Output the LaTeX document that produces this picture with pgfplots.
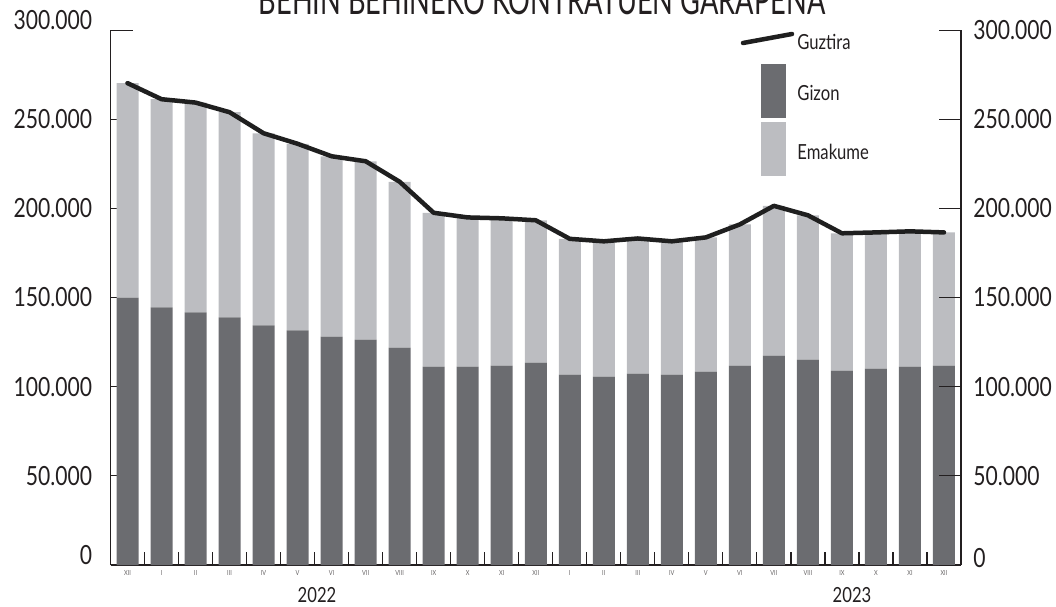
\documentclass[border=0pt]{standalone}
\usepackage{pgfplots}
\pgfplotsset{compat=1.18}
\usepackage{pgfplotstable}
\usepackage{fontspec}
\setmainfont{Lato}[FakeStretch=0.8]
\newfontfamily\titlefont{Lato}[FakeStretch=0.68]
\definecolor{gizon}{HTML}{6B6C70}
\definecolor{emakume}{HTML}{BCBDC1}
\definecolor{txt}{HTML}{231F20}

\pgfplotstableread{
k gizon emakume guztira
0 150000 120200 270200
1 144400 116800 261200
2 141600 117700 259300
3 138800 115100 253900
4 134300 107800 242100
5 131500 104700 236200
6 128100 101100 229200
7 126400 100000 226400
8 121900 93000 214900
9 111200 86300 197500
10 111200 83700 194900
11 111800 82600 194400
12 113500 79800 193300
13 106700 76200 182900
14 105600 75900 181500
15 107300 75800 183100
16 106700 74800 181500
17 108400 75300 183700
18 111800 79200 191000
19 117400 84000 201400
20 115200 80900 196100
21 109000 77000 186000
22 110100 76400 186500
23 111200 75900 187100
24 111800 74700 186500
}\data

\begin{document}
\begin{tikzpicture}[x=1pt,y=1pt]
\begin{axis}[
  at={(55.25pt,20.5pt)}, anchor=south west,
  scale only axis, width=425.25pt, height=267.5pt,
  xmin=-0.5, xmax=24.5, ymin=0, ymax=300000,
  axis x line*=bottom, axis y line*=left,
  axis line style={line width=0.6pt, -, txt},
  ybar stacked, bar width=11pt,
  xtick={0,...,24},
  xticklabels={XII,I,II,III,IV,V,VI,VII,VIII,IX,X,XI,XII,I,II,III,IV,V,VI,VII,VIII,IX,X,XI,XII},
  xticklabel style={font=\fontsize{3.5}{4}\selectfont, inner sep=0pt, yshift=-2.5pt, text=txt!70},
  major x tick style={draw=none},
  minor xtick={0.5,1.5,...,23.5},
  minor x tick style={line width=0.6pt, txt},
  minor tick length=6.5pt,
  tick align=inside,
  ytick={50000,100000,150000,200000,250000},
  major y tick style={line width=0.5pt, txt},
  major tick length=3pt,
  extra y ticks={0,300000},
  extra y tick style={major tick length=11pt, yticklabel style={yshift=5pt}},
  scaled y ticks=false,
  yticklabel style={font=\fontsize{13.2}{14}\selectfont, inner sep=0pt, xshift=-9pt, text=txt},
  /pgf/number format/.cd, fixed, 1000 sep={.}, assume math mode=true,
]
\addplot[fill=gizon, draw=none] table[x=k,y=gizon]{\data};
\addplot[fill=emakume, draw=none] table[x=k,y=emakume]{\data};
\end{axis}
\begin{axis}[
  at={(55.25pt,20.5pt)}, anchor=south west,
  scale only axis, width=425.25pt, height=267.5pt,
  xmin=-0.5, xmax=24.5, ymin=0, ymax=300000,
  axis x line=none, axis y line*=right,
  axis line style={line width=0.6pt, -, txt},
  tick align=inside,
  ytick={50000,100000,150000,200000,250000,300000},
  major tick length=11pt,
  major y tick style={line width=0.5pt, txt},
  extra y ticks={0},
  extra y tick style={yticklabel style={yshift=3.5pt}},
  scaled y ticks=false,
  yticklabel style={font=\fontsize{13.2}{14}\selectfont, inner sep=0pt, xshift=6pt, text=txt},
  /pgf/number format/.cd, fixed, 1000 sep={.}, assume math mode=true,
]
\addplot[line width=2.25pt, color=black!88, line join=round, line cap=round] table[x=k,y=guztira]{\data};
\end{axis}
% legend
\draw[line width=2.25pt, color=black!88, line cap=round] (371.5,281.5) -- (396,286);
\node[anchor=west, inner sep=0pt, font=\fontsize{10.4}{12}\selectfont, text=txt] at (398.5,282) {Guztira};
\fill[gizon] (380.5,244) rectangle (393,271);
\node[anchor=west, inner sep=0pt, font=\fontsize{10.4}{12}\selectfont, text=txt] at (398.5,256.5) {Gizon};
\fill[emakume] (380.5,215) rectangle (393,242);
\node[anchor=west, inner sep=0pt, font=\fontsize{10.4}{12}\selectfont, text=txt] at (398.5,227) {Emakume};
% years
\node[inner sep=0pt, font=\fontsize{10.4}{12}\selectfont, text=txt] at (158.5,5.25) {2022};
\node[inner sep=0pt, font=\fontsize{10.4}{12}\selectfont, text=txt] at (426,5.25) {2023};
% title (partly cut off at the top edge, as in the reference)
\node[overlay, anchor=base, inner sep=0pt, font=\titlefont\fontsize{20}{22}\selectfont, text=txt] at (271,295.5) {BEHIN BEHINEKO KONTRATUEN GARAPENA};
\pgfresetboundingbox
\useasboundingbox (0,0) rectangle (528,303);
\end{tikzpicture}
\end{document}
